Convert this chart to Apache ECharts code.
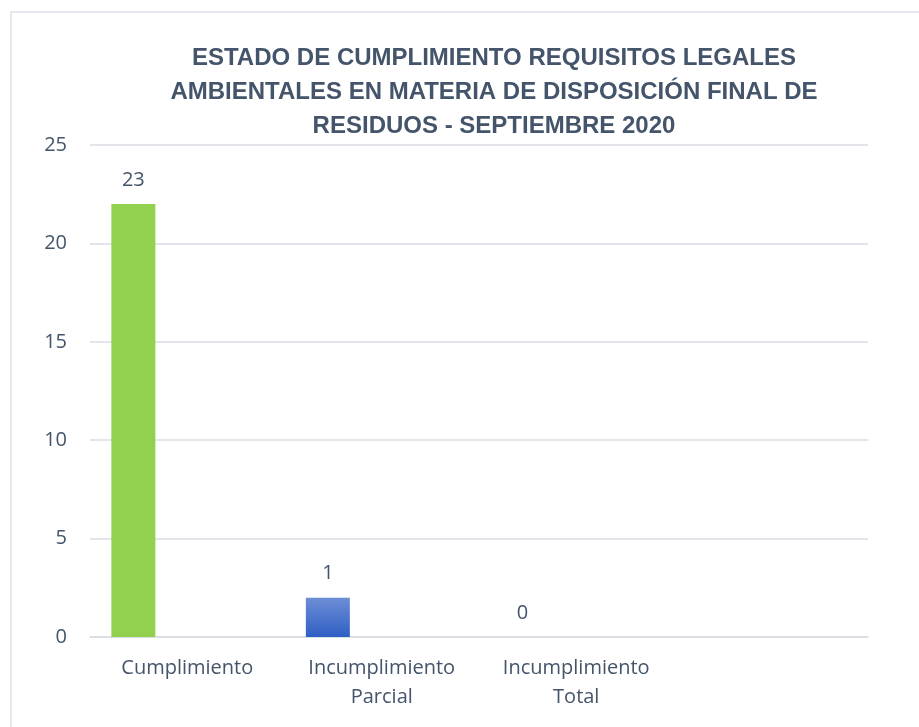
<!DOCTYPE html>
<html>
<head>
<meta charset="utf-8">
<script src="https://cdn.jsdelivr.net/npm/echarts@6/dist/echarts.min.js"></script>
<style>
  html, body { margin: 0; padding: 0; background: #fff; }
  #chart { width: 919px; height: 727px; }
</style>
</head>
<body>
<div id="chart"></div>
<script>
// categories (the 4th slot is empty in the original chart)
const categories = ["Cumplimiento", "Incumplimiento\nParcial", "Incumplimiento\nTotal", ""];
// bar heights as drawn
const barValues = [22, 2, 0, null];
// data labels as printed above the bars
const barLabels = ["23", "1", "0", ""];
const barColors = ["#92D050", "blue", "#92D050", "#92D050"];
const yTicks = { min: 0, max: 25, interval: 5 };

const textColor = "#44546A";
const gridColor = "#D9DDE3";

let chart = echarts.init(document.getElementById("chart"));

const blueGrad = new echarts.graphic.LinearGradient(0, 0, 0, 1, [
  { offset: 0, color: "#6D8ED6" },
  { offset: 1, color: "#2F5FC4" }
]);

const option = {
  animation: false,
  title: {
    text: "ESTADO DE CUMPLIMIENTO REQUISITOS LEGALES\nAMBIENTALES EN MATERIA DE DISPOSICIÓN FINAL DE\nRESIDUOS - SEPTIEMBRE 2020",
    left: 489,
    textAlign: "center",
    top: 36,
    textStyle: {
      fontFamily: "Liberation Sans Narrow, Liberation Sans, sans-serif",
      fontWeight: "bold",
      fontSize: 24,
      lineHeight: 34,
      color: textColor
    }
  },
  graphic: [{
    type: "rect",
    shape: { x: 11, y: 12, width: 920, height: 730 },
    style: { fill: "none", stroke: "#DDE1E8", lineWidth: 1.5 },
    silent: true
  }],
  grid: { left: 90, right: 51, top: 145, bottom: 90 },
  xAxis: {
    type: "category",
    data: categories,
    axisTick: { show: false },
    axisLine: { lineStyle: { color: gridColor, width: 1.5 } },
    axisLabel: {
      color: textColor,
      fontFamily: "Open Sans, sans-serif",
      fontSize: 20,
      lineHeight: 29,
      margin: 17,
      interval: 0
    }
  },
  yAxis: {
    type: "value",
    min: yTicks.min,
    max: yTicks.max,
    interval: yTicks.interval,
    axisLine: { show: false },
    axisTick: { show: false },
    splitLine: { lineStyle: { color: gridColor, width: 1.5 } },
    axisLabel: {
      color: textColor,
      fontFamily: "Open Sans, sans-serif",
      fontSize: 20,
      margin: 23
    }
  },
  series: [
    {
      type: "bar",
      barWidth: 44,
      barGap: "145%",
      data: barValues.map((v, i) => ({
        value: v,
        itemStyle: { color: barColors[i] === "blue" ? blueGrad : barColors[i] }
      })),
      label: {
        show: true,
        position: "top",
        distance: 14,
        color: textColor,
        fontFamily: "Open Sans, sans-serif",
        fontSize: 20,
        formatter: p => barLabels[p.dataIndex]
      }
    },
    {
      type: "bar",
      barWidth: 44,
      silent: true,
      data: categories.map(() => null)
    }
  ]
};

chart.setOption(option);
</script>
</body>
</html>
